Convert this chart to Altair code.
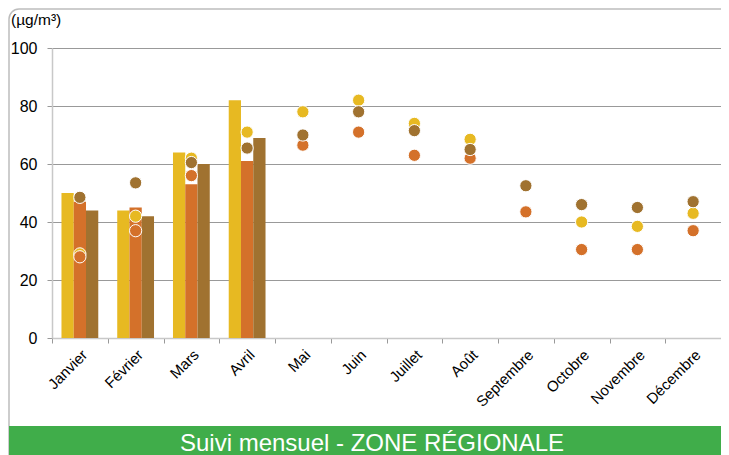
import altair as alt
import pandas as pd

months = ["Janvier", "Février", "Mars", "Avril", "Mai", "Juin", "Juillet",
          "Août", "Septembre", "Octobre", "Novembre", "Décembre"]
series = ["Série 1", "Série 2", "Série 3"]
colors = ["#E7B922", "#D4712A", "#A07230"]

bar_s1 = [50, 44, 64, 82]
bar_s2 = [47, 45, 53, 61]
bar_s3 = [44, 42, 60, 69]

dot_s1 = [29, 42, 62, 71, 78, 82, 74, 68.5, None, 40, 38.5, 43]
dot_s2 = [28, 37, 56, None, 66.5, 71, 63, 62, 43.5, 30.5, 30.5, 37]
dot_s3 = [48.5, 53.5, 60.5, 65.5, 70, 78, 71.5, 65, 52.5, 46, 45, 47]

y_ticks = [0, 20, 40, 60, 80, 100]
unit_label = "(µg/m³)"
banner_title = "Suivi mensuel - ZONE RÉGIONALE"

FONT = "Liberation Sans"
W, H = 669, 290

bars = []
for s, vals in zip(series, [bar_s1, bar_s2, bar_s3]):
    for m, v in zip(months, vals):
        bars.append({"mois": m, "serie": s, "valeur": v})
bars = pd.DataFrame(bars)

dots = []
for s, vals in zip(series, [dot_s1, dot_s2, dot_s3]):
    for m, v in zip(months, vals):
        if v is not None:
            dots.append({"mois": m, "serie": s, "valeur": v})
dots = pd.DataFrame(dots)

color_scale = alt.Scale(domain=series, range=colors)
x_scale = alt.Scale(domain=months, paddingInner=0.34, paddingOuter=0.17)
y_scale = alt.Scale(domain=[0, 100])

x_axis = alt.Axis(title=None, labelAngle=-45, ticks=False, grid=False,
                  orient="bottom",
                  domainColor="#c8c8c8", domainWidth=1.5,
                  labelFont=FONT, labelFontSize=15, labelColor="#000",
                  labelPadding=9, labelAlign="right", labelBaseline="top")
y_axis = alt.Axis(title=None, values=y_ticks, grid=True, gridColor="#999999",
                  gridWidth=1.2, domainColor="#c8c8c8", domainWidth=1.5,
                  tickColor="#999999", tickSize=5, labelFont=FONT,
                  labelFontSize=16, labelColor="#000", labelPadding=10)

frame = alt.Chart(pd.DataFrame({"k": [0]})).mark_rect(
    fill="transparent", stroke="#bdbdbd", strokeWidth=1.5, cornerRadius=10
).encode(x=alt.value(-43), x2=alt.value(700), y=alt.value(-39), y2=alt.value(420))

banner = alt.Chart(pd.DataFrame({"k": [0]})).mark_rect(
    fill="#40AD4A", cornerRadiusBottomLeft=10
).encode(x=alt.value(-43), x2=alt.value(700), y=alt.value(378), y2=alt.value(420))

banner_text = alt.Chart(pd.DataFrame({"t": [banner_title]})).mark_text(
    font=FONT, fontSize=24, color="white", align="center", baseline="alphabetic"
).encode(text="t:N", x=alt.value(320), y=alt.value(403))

unit_text = alt.Chart(pd.DataFrame({"t": [unit_label]})).mark_text(
    font=FONT, fontSize=15.5, color="#000", align="left", baseline="middle"
).encode(text="t:N", x=alt.value(-41), y=alt.value(-28))

bar_layer = alt.Chart(bars).mark_bar().encode(
    x=alt.X("mois:N", sort=months, scale=x_scale, axis=x_axis),
    xOffset=alt.XOffset("serie:N", sort=series, scale=alt.Scale(domain=series)),
    y=alt.Y("valeur:Q", scale=y_scale, axis=y_axis),
    color=alt.Color("serie:N", scale=color_scale, legend=None),
)

dot_layer = alt.Chart(dots).mark_circle(size=150, opacity=1, stroke="white", strokeWidth=1).encode(
    x=alt.X("mois:N", sort=months, scale=x_scale, axis=x_axis),
    y=alt.Y("valeur:Q", scale=y_scale, axis=y_axis),
    color=alt.Color("serie:N", scale=color_scale, legend=None),
)

tick_layer = alt.Chart(pd.DataFrame({"i": [0, 12]})).mark_point(opacity=0).encode(
    x=alt.X("i:Q", scale=alt.Scale(domain=[0, 12], nice=False),
            axis=alt.Axis(values=list(range(13)), labels=False, ticks=True,
                          tickSize=5, tickColor="#999999", domain=False,
                          grid=False, title=None, orient="bottom")),
    y=alt.value(0),
)

main = alt.layer(bar_layer, dot_layer)

chart = alt.layer(
    frame, banner, banner_text, unit_text, tick_layer, main
).resolve_scale(x="independent").resolve_axis(x="independent").properties(
    width=W, height=H,
    autosize=alt.AutoSizeParams(type="none"),
    padding={"left": 44, "top": 40, "right": 0, "bottom": 117},
).configure_view(stroke=None)

chart.save("out.html", embed_options={"renderer": "svg", "actions": False})
